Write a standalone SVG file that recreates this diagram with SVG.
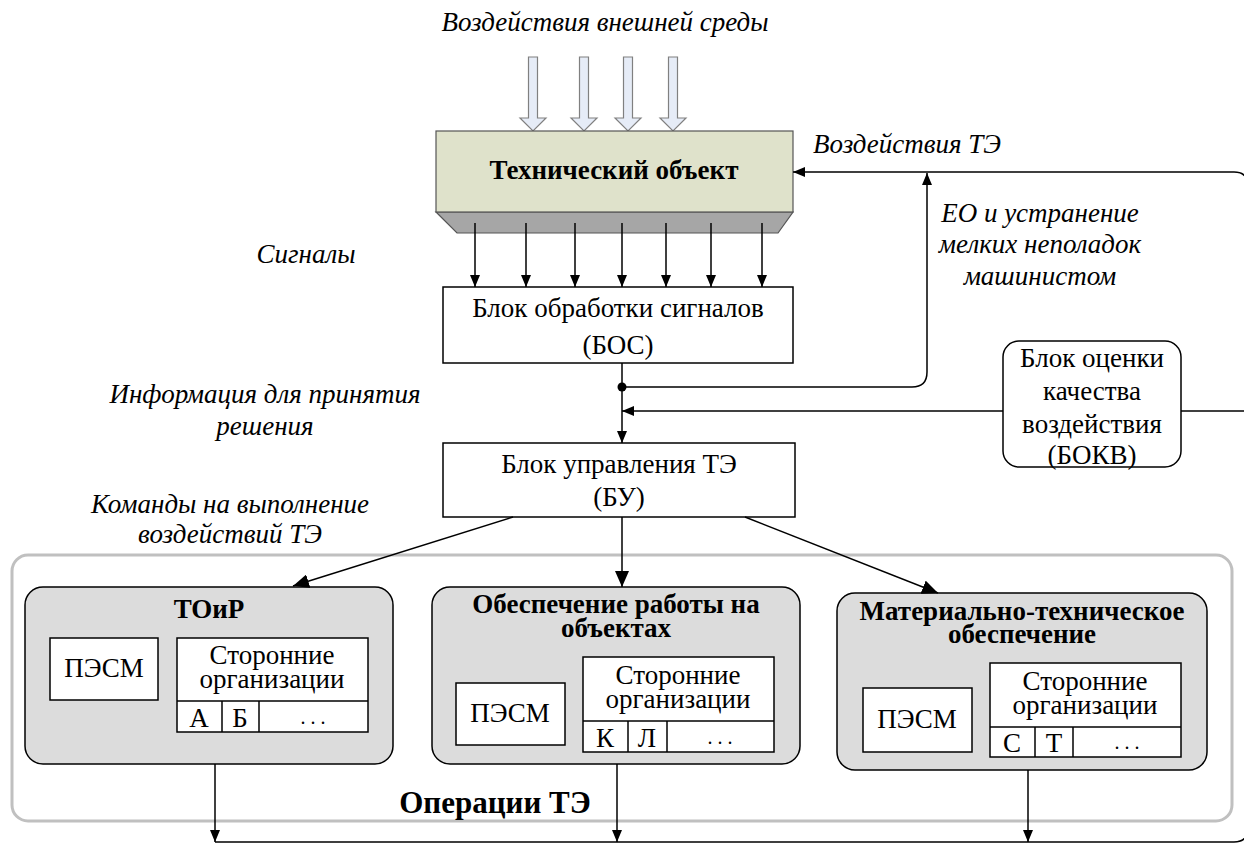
<svg xmlns="http://www.w3.org/2000/svg" width="1244" height="843" viewBox="0 0 1244 843">
<style>
text{font-family:"Liberation Serif","Times New Roman",serif;fill:#000}
.it{font-style:italic;font-size:27px}
.rg{font-size:27px}
.bd{font-weight:bold;font-size:27px}
.ln{fill:none;stroke:#000;stroke-width:1.5}
.box{fill:#fff;stroke:#000;stroke-width:1.5}
.grp{fill:#dcdcdc;stroke:#000;stroke-width:1.5}
.fat{fill:#e6ecf7;stroke:#808080;stroke-width:1.2}
</style>
<defs>
<marker id="a" markerUnits="userSpaceOnUse" markerWidth="12" markerHeight="10" refX="12" refY="5" orient="auto"><path d="M0,0 L12,5 L0,10 z" fill="#000"/></marker>
<marker id="b" markerUnits="userSpaceOnUse" markerWidth="16" markerHeight="14" refX="16" refY="7" orient="auto"><path d="M0,0 L16,7 L0,14 z" fill="#000"/></marker>
</defs>
<rect width="1244" height="843" fill="#fff"/>

<text class="it" x="605" y="31" text-anchor="middle">Воздействия внешней среды</text>
<g id="env-arrows">
<polygon class="fat" points="528.5,57 537.5,57 537.5,118 546,118 533,131 520,118 528.5,118"/>
<polygon class="fat" points="579.5,57 588.5,57 588.5,118 597,118 584,131 571,118 579.5,118"/>
<polygon class="fat" points="623.5,57 632.5,57 632.5,118 641,118 628,131 615,118 623.5,118"/>
<polygon class="fat" points="668.5,57 677.5,57 677.5,118 686,118 673,131 660,118 668.5,118"/>
</g>

<g id="tech-object">
<polygon points="436,212 793,212 778,233 457,233" fill="#a6a6a6" stroke="#555" stroke-width="1.2"/>
<rect x="436" y="131" width="357" height="81" fill="#dfe2cb" stroke="#555" stroke-width="1.2"/>
<text class="bd" x="614" y="179" text-anchor="middle">Технический объект</text>
</g>

<text class="it" x="306" y="263" text-anchor="middle">Сигналы</text>
<text class="it" x="813" y="153">Воздействия ТЭ</text>
<text class="it" x="1040" y="222" text-anchor="middle">ЕО и устранение</text>
<text class="it" x="1040" y="253" text-anchor="middle">мелких неполадок</text>
<text class="it" x="1040" y="285" text-anchor="middle">машинистом</text>
<text class="it" x="265" y="403" text-anchor="middle">Информация для принятия</text>
<text class="it" x="265" y="435" text-anchor="middle">решения</text>
<text class="it" x="230" y="513" text-anchor="middle">Команды на выполнение</text>
<text class="it" x="230" y="543" text-anchor="middle">воздействий ТЭ</text>

<g id="bos">
<rect class="box" x="443" y="287" width="350" height="76"/>
<text class="rg" x="618" y="317" text-anchor="middle">Блок обработки сигналов</text>
<text class="rg" x="618" y="354" text-anchor="middle">(БОС)</text>
</g>

<g id="bu">
<rect class="box" x="443" y="443" width="352" height="74"/>
<text class="rg" x="619" y="473" text-anchor="middle">Блок управления ТЭ</text>
<text class="rg" x="619" y="506" text-anchor="middle">(БУ)</text>
</g>

<g id="bokv">
<rect class="box" x="1003" y="341" width="178" height="126" rx="16"/>
<text class="rg" x="1092" y="367" text-anchor="middle">Блок оценки</text>
<text class="rg" x="1092" y="400" text-anchor="middle">качества</text>
<text class="rg" x="1092" y="433" text-anchor="middle">воздействия</text>
<text class="rg" x="1092" y="464" text-anchor="middle">(БОКВ)</text>
</g>

<g id="operations">
<rect x="12" y="555" width="1220" height="266" rx="16" fill="none" stroke="#c0c0c0" stroke-width="3"/>
<text class="bd" x="495" y="813" text-anchor="middle" style="font-size:31px">Операции ТЭ</text>
</g>

<g id="toir">
<rect class="grp" x="25" y="587" width="368" height="177" rx="18"/>
<text class="bd" x="209" y="618" text-anchor="middle">ТОиР</text>
<rect class="box" x="50" y="638" width="108" height="62"/>
<text class="rg" x="104" y="677" text-anchor="middle">ПЭСМ</text>
<rect class="box" x="177" y="638" width="191" height="94"/>
<line class="ln" x1="177" y1="701" x2="368" y2="701"/>
<line class="ln" x1="222" y1="701" x2="222" y2="732"/>
<line class="ln" x1="259" y1="701" x2="259" y2="732"/>
<text class="rg" x="272" y="664" text-anchor="middle">Сторонние</text>
<text class="rg" x="272" y="688" text-anchor="middle">организации</text>
<text class="rg" x="199" y="727" text-anchor="middle">А</text>
<text class="rg" x="240" y="727" text-anchor="middle">Б</text>
<text class="rg" x="313" y="724" text-anchor="middle" style="font-size:20px">. . .</text>
</g>

<g id="obesp">
<rect class="grp" x="432" y="587" width="368" height="177" rx="18"/>
<text class="bd" x="616" y="613" text-anchor="middle">Обеспечение работы на</text>
<text class="bd" x="616" y="637" text-anchor="middle">объектах</text>
<rect class="box" x="456" y="683" width="109" height="62"/>
<text class="rg" x="510" y="722" text-anchor="middle">ПЭСМ</text>
<rect class="box" x="583" y="657" width="191" height="95"/>
<line class="ln" x1="583" y1="721" x2="774" y2="721"/>
<line class="ln" x1="628" y1="721" x2="628" y2="752"/>
<line class="ln" x1="667" y1="721" x2="667" y2="752"/>
<text class="rg" x="678" y="684" text-anchor="middle">Сторонние</text>
<text class="rg" x="678" y="708" text-anchor="middle">организации</text>
<text class="rg" x="605" y="747" text-anchor="middle">К</text>
<text class="rg" x="647" y="747" text-anchor="middle">Л</text>
<text class="rg" x="720" y="744" text-anchor="middle" style="font-size:20px">. . .</text>
</g>

<g id="mto">
<rect class="grp" x="837" y="593" width="370" height="177" rx="18"/>
<text class="bd" x="1022" y="620" text-anchor="middle">Материально-техническое</text>
<text class="bd" x="1022" y="643" text-anchor="middle">обеспечение</text>
<rect class="box" x="863" y="688" width="109" height="64"/>
<text class="rg" x="917" y="728" text-anchor="middle">ПЭСМ</text>
<rect class="box" x="990" y="663" width="191" height="94"/>
<line class="ln" x1="990" y1="727" x2="1181" y2="727"/>
<line class="ln" x1="1035" y1="727" x2="1035" y2="757"/>
<line class="ln" x1="1073" y1="727" x2="1073" y2="757"/>
<text class="rg" x="1085" y="690" text-anchor="middle">Сторонние</text>
<text class="rg" x="1085" y="714" text-anchor="middle">организации</text>
<text class="rg" x="1012" y="752" text-anchor="middle">С</text>
<text class="rg" x="1054" y="752" text-anchor="middle">Т</text>
<text class="rg" x="1127" y="749" text-anchor="middle" style="font-size:20px">. . .</text>
</g>

<g id="connectors">
<line class="ln" x1="475" y1="223" x2="475" y2="287" marker-end="url(#a)"/>
<line class="ln" x1="526" y1="223" x2="526" y2="287" marker-end="url(#a)"/>
<line class="ln" x1="575" y1="223" x2="575" y2="287" marker-end="url(#a)"/>
<line class="ln" x1="622" y1="223" x2="622" y2="287" marker-end="url(#a)"/>
<line class="ln" x1="666" y1="223" x2="666" y2="287" marker-end="url(#a)"/>
<line class="ln" x1="711" y1="223" x2="711" y2="287" marker-end="url(#a)"/>
<line class="ln" x1="762" y1="223" x2="762" y2="287" marker-end="url(#a)"/>
<line class="ln" x1="622" y1="363" x2="622" y2="443" marker-end="url(#a)"/>
<circle cx="622" cy="387" r="4.5" fill="#000"/>
<path class="ln" d="M622,387 H912 Q927,387 927,372 V173" marker-end="url(#a)"/>
<path class="ln" d="M1248,843 V186 Q1248,172 1234,172 H793" marker-end="url(#a)"/>
<line class="ln" x1="1248" y1="411" x2="1181" y2="411"/>
<line class="ln" x1="1003" y1="411" x2="622" y2="411" marker-end="url(#a)"/>
<line class="ln" x1="513" y1="517" x2="293" y2="586" marker-end="url(#b)"/>
<line class="ln" x1="622" y1="517" x2="622" y2="587" marker-end="url(#b)"/>
<line class="ln" x1="745" y1="517" x2="938" y2="593" marker-end="url(#b)"/>
<line class="ln" x1="215" y1="764" x2="215" y2="842" marker-end="url(#a)"/>
<line class="ln" x1="617" y1="764" x2="617" y2="842" marker-end="url(#a)"/>
<line class="ln" x1="1028" y1="770" x2="1028" y2="842" marker-end="url(#a)"/>
<path class="ln" d="M215,842 H1234 Q1248,842 1248,828"/>
</g>
</svg>
